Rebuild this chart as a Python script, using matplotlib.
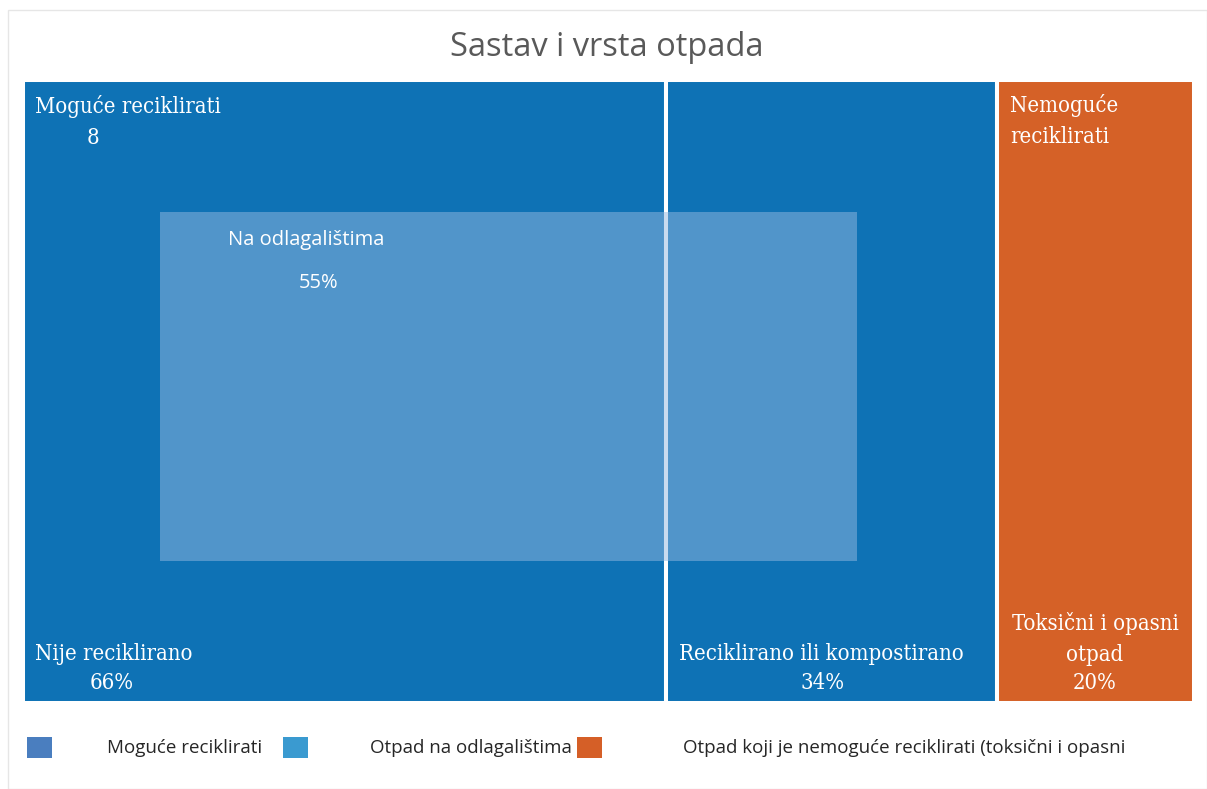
import matplotlib.pyplot as plt
from matplotlib.patches import Rectangle

# --- data ---
title = "Sastav i vrsta otpada"
group_names = ["Moguće reciklirati", "Nemoguće\nreciklirati"]
group_share = [83.2, 16.8]          # share of the width taken by each group
sub_names = ["Nije reciklirano", "Reciklirano ili kompostirano"]
sub_pct = [66, 34]                  # split of the recyclable group
orange_label = "Toksični i opasni\notpad"
orange_pct = 20
group_value_label = "8"
landfill_label = "Na odlagalištima"
landfill_pct = 55
legend_labels = ["Moguće reciklirati", "Otpad na odlagalištima",
                 "Otpad koji je nemoguće reciklirati (toksični i opasni"]

BLUE = "#0E72B5"
ORANGE = "#D56127"
OVERLAY = "#94B8E0"
legend_colors = ["#4A7EBF", "#3A9AD0", "#D55F27"]

W, H = 1207, 789
fig = plt.figure(figsize=(W / 100, H / 100), dpi=100)

# faint outer chart frame
frame = Rectangle((8 / W, 0), 1 - 8 / W, 1 - 10 / H, transform=fig.transFigure,
                  facecolor="none", edgecolor="#E6E6E6", lw=1, zorder=-1)
fig.patches.append(frame)

fig.text(607 / W, 1 - 48 / H, title, ha="center", va="center",
         fontsize=23.5, color="#595959", family="Open Sans")

# treemap axes (2px margin for the white cell borders)
X0, Y0, AW, AH = 23, 703, 1171, 623
ax = fig.add_axes([X0 / W, 1 - Y0 / H, AW / W, AH / H])
ax.set_xlim(0, sum(group_share))
ax.set_ylim(0, 1)
ax.axis("off")

rec_w = [group_share[0] * p / 100 for p in sub_pct]
x = 0
for w in rec_w:
    ax.add_patch(Rectangle((x, 0), w, 1, facecolor=BLUE, edgecolor="white", lw=2.9))
    x += w
ax.add_patch(Rectangle((x, 0), group_share[1], 1, facecolor=ORANGE, edgecolor="white", lw=2.9))


def px(xp, yp):
    return ((xp - X0) / AW, (Y0 - yp) / AH)


# landfill overlay (semi-transparent)
ox0, oy1 = px(160, 561)
ox1, oy0 = px(857, 212)
ax.add_patch(Rectangle((ox0, oy1), ox1 - ox0, oy0 - oy1, transform=ax.transAxes,
                       facecolor=OVERLAY, alpha=0.5, edgecolor="none"))

serif = dict(family="DejaVu Serif", color="white", fontsize=15.8, fontstretch="condensed")

ax.text(*px(35, 106), group_names[0], transform=ax.transAxes, ha="left", va="center", **serif)
ax.text(*px(93, 138), group_value_label, transform=ax.transAxes, ha="center", va="center", **serif)
ax.text(*px(35, 654), sub_names[0], transform=ax.transAxes, ha="left", va="center", **serif)
ax.text(*px(112, 683), f"{sub_pct[0]}%", transform=ax.transAxes, ha="center", va="center", **serif)
ax.text(*px(679, 654), sub_names[1], transform=ax.transAxes, ha="left", va="center", **serif)
ax.text(*px(823, 683), f"{sub_pct[1]}%", transform=ax.transAxes, ha="center", va="center", **serif)
ax.text(*px(1010, 121), group_names[1], transform=ax.transAxes, ha="left", va="center",
        linespacing=1.5, **serif)
ax.text(*px(1095, 639), orange_label, transform=ax.transAxes, ha="center", va="center",
        linespacing=1.5, **serif)
ax.text(*px(1095, 683), f"{orange_pct}%", transform=ax.transAxes, ha="center", va="center", **serif)

sans = dict(family="Open Sans", color="white", fontsize=14.5)
ax.text(*px(228, 240), landfill_label, transform=ax.transAxes, ha="left", va="center", **sans)
ax.text(*px(319, 283), f"{landfill_pct}%", transform=ax.transAxes, ha="center", va="center", **sans)

# legend
sq_x = [27, 283, 577]
txt_x = [107, 370, 683]
for c, lab, sx, tx in zip(legend_colors, legend_labels, sq_x, txt_x):
    fig.patches.append(Rectangle((sx / W, 1 - 758 / H), 25 / W, 21 / H,
                                 transform=fig.transFigure, facecolor=c, edgecolor="none"))
    fig.text(tx / W, 1 - 748 / H, lab, ha="left", va="center", fontsize=13.5,
             color="#262626", family="Open Sans")

fig.savefig("out.png", dpi=100)
